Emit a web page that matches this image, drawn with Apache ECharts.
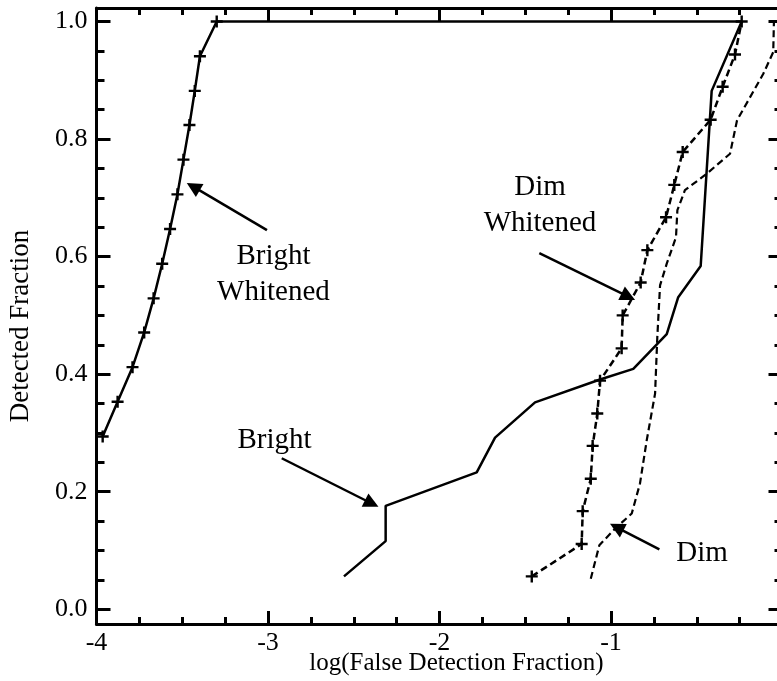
<!DOCTYPE html>
<html>
<head>
<meta charset="utf-8">
<script src="https://cdn.jsdelivr.net/npm/echarts@6/dist/echarts.min.js"></script>
<style>
html,body{margin:0;padding:0;background:#fff;}
#chart{width:777px;height:681px;}
</style>
</head>
<body>
<div id="chart"></div>
<script>
// ---- tick values ----
const xTickValues = [-4, -3, -2, -1, 0];
const yTickValues = [0, 0.2, 0.4, 0.6, 0.8, 1.0];
const yMinorTickValues = [0.05, 0.1, 0.15, 0.25, 0.3, 0.35, 0.45, 0.5, 0.55, 0.65, 0.7, 0.75, 0.85, 0.9, 0.95];

// ---- axis titles ----
const xTitle = 'log(False Detection Fraction)';
const yTitle = 'Detected Fraction';

// ---- series: Bright Whitened (solid, + markers) ----
const brightWhitenedX = [-3.964, -3.877, -3.790, -3.722, -3.667, -3.617, -3.571, -3.528, -3.493, -3.458, -3.427, -3.397, -3.299, -0.238];
const brightWhitenedY = [0.294, 0.353, 0.412, 0.471, 0.529, 0.588, 0.647, 0.706, 0.765, 0.824, 0.882, 0.941, 1.000, 1.000];
const brightWhitenedMarked = [true, true, true, true, true, true, true, true, true, true, true, true, true, false];

// ---- series: Bright (solid) ----
const brightX = [-2.557, -2.314, -2.314, -1.783, -1.676, -1.443, -1.064, -0.870, -0.675, -0.608, -0.477, -0.413, -0.238];
const brightY = [0.056, 0.116, 0.176, 0.233, 0.292, 0.352, 0.391, 0.409, 0.468, 0.531, 0.584, 0.882, 1.000];

// ---- series: Dim Whitened (dashed, + markers) ----
const dimWhitenedX = [-1.462, -1.171, -1.165, -1.118, -1.107, -1.080, -1.064, -0.938, -0.932, -0.827, -0.788, -0.679, -0.631, -0.582, -0.419, -0.349, -0.277, -0.238];
const dimWhitenedY = [0.056, 0.111, 0.167, 0.222, 0.278, 0.333, 0.389, 0.444, 0.500, 0.556, 0.611, 0.667, 0.722, 0.778, 0.833, 0.889, 0.944, 1.000];

// ---- series: Dim (dashed) ----
const dimX = [-1.118, -1.068, -0.977, -0.879, -0.831, -0.792, -0.743, -0.730, -0.714, -0.675, -0.621, -0.613, -0.569, -0.442, -0.306, -0.265, -0.112, -0.054, -0.050];
const dimY = [0.052, 0.109, 0.137, 0.163, 0.214, 0.287, 0.367, 0.463, 0.551, 0.588, 0.633, 0.679, 0.713, 0.741, 0.775, 0.832, 0.911, 0.948, 1.000];

// ---- annotations (data coordinates) ----
const annotationTexts = ['Bright\nWhitened', 'Dim\nWhitened', 'Bright', 'Dim'];
const annotationX = [-2.968, -1.414, -2.962, -0.469];
const annotationY = [0.569, 0.688, 0.288, 0.095];
const arrowFromX = [-3.006, -1.418, -2.920, -0.718];
const arrowFromY = [0.645, 0.606, 0.257, 0.102];
const arrowToX = [-3.436, -0.899, -2.395, -0.967];
const arrowToY = [0.719, 0.532, 0.180, 0.1395];

// ---- styling ----
const FONT = "'Liberation Serif','Times New Roman',serif";
const PLUS = 'path://M4,0H6V4H10V6H6V10H4V6H0V4H4Z';
const BLACK = '#000';

function zip(xs, ys) { return xs.map((x, i) => [x, ys[i]]); }

const X_MIN = -4, X_MAX = 0, Y_MIN = -0.025, Y_MAX = 1.023;

function xAxisCfg(pos, showLabel) {
  return {
    type: 'value', position: pos, min: X_MIN, max: X_MAX, interval: 1,
    axisLine: { show: true, onZero: false, lineStyle: { color: BLACK, width: 3 } },
    axisTick: { show: true, inside: true, length: 13, lineStyle: { color: BLACK, width: 3 } },
    minorTick: { show: true, splitNumber: 4, length: 7, lineStyle: { color: BLACK, width: 3 } },
    axisLabel: { show: showLabel, margin: 6, fontSize: 26, fontFamily: FONT, color: BLACK,
                 hideOverlap: false, showMaxLabel: true, showMinLabel: true,
                 formatter: v => String(v) },
    splitLine: { show: false }, minorSplitLine: { show: false }
  };
}
function yAxisCfg(pos, values, len, showLine, showLabel) {
  return {
    type: 'value', position: pos, min: Y_MIN, max: Y_MAX,
    axisLine: { show: showLine, onZero: false, lineStyle: { color: BLACK, width: 3 } },
    axisTick: { show: true, inside: true, length: len, customValues: values,
                lineStyle: { color: BLACK, width: 3 } },
    axisLabel: { show: showLabel, customValues: values, margin: 9, fontSize: 26, fontFamily: FONT,
                 color: BLACK, formatter: v => v.toFixed(1) },
    splitLine: { show: false }
  };
}

const xBottom = xAxisCfg('bottom', true);
xBottom.name = xTitle;
xBottom.nameLocation = 'middle';
xBottom.nameGap = 27;
xBottom.nameMoveOverlap = false;
xBottom.nameTextStyle = { fontSize: 25, fontFamily: FONT, color: BLACK, padding: [0, 0, 0, 34] };

const yLeft = yAxisCfg('left', yTickValues, 14, true, true);
yLeft.name = yTitle;
yLeft.nameLocation = 'middle';
yLeft.nameGap = 62;
yLeft.nameMoveOverlap = false;
yLeft.nameTextStyle = { fontSize: 27, fontFamily: FONT, color: BLACK, padding: [0, 20, 0, 0] };

const lineBase = { type: 'line', xAxisIndex: 0, yAxisIndex: 0, animation: false, silent: true,
                   emphasis: { disabled: true }, clip: true };

const option = {
  animation: false,
  backgroundColor: '#fff',
  grid: { left: 96.5, top: 8, width: 686, height: 616, containLabel: false, outerBoundsMode: 'none' },
  xAxis: [xBottom, xAxisCfg('top', false)],
  yAxis: [
    yLeft,
    yAxisCfg('left', yMinorTickValues, 8, false, false),
    yAxisCfg('right', yTickValues, 14, true, false),
    yAxisCfg('right', yMinorTickValues, 8, false, false)
  ],
  series: [
    Object.assign({}, lineBase, {
      name: 'Bright Whitened',
      data: brightWhitenedX.map((x, i) => ({ value: [x, brightWhitenedY[i]],
                                              symbol: brightWhitenedMarked[i] ? PLUS : 'none' })),
      symbol: PLUS, symbolSize: 12, showSymbol: true,
      itemStyle: { color: BLACK, opacity: 1 },
      lineStyle: { color: BLACK, width: 2.5, type: 'solid' }
    }),
    Object.assign({}, lineBase, {
      name: 'Bright',
      data: zip(brightX, brightY),
      symbol: 'none',
      lineStyle: { color: BLACK, width: 2.5, type: 'solid' }
    }),
    Object.assign({}, lineBase, {
      name: 'Dim Whitened',
      data: zip(dimWhitenedX, dimWhitenedY),
      symbol: PLUS, symbolSize: 12, showSymbol: true,
      itemStyle: { color: BLACK, opacity: 1 },
      lineStyle: { color: BLACK, width: 2.5, type: [7, 4] }
    }),
    Object.assign({}, lineBase, {
      name: 'Dim',
      data: zip(dimX, dimY),
      symbol: 'none',
      lineStyle: { color: BLACK, width: 2.2, type: [7, 4] }
    }),
    {
      type: 'scatter', name: 'annotations', xAxisIndex: 0, yAxisIndex: 0,
      animation: false, silent: true, emphasis: { disabled: true },
      symbol: 'circle', symbolSize: 0,
      itemStyle: { color: BLACK, opacity: 1 },
      data: annotationTexts.map((t, i) => ({ name: t, value: [annotationX[i], annotationY[i]] })),
      label: { show: true, position: 'inside', formatter: '{b}', fontSize: 29, fontFamily: FONT,
               color: BLACK, opacity: 1, lineHeight: 36, align: 'center', verticalAlign: 'middle' },
      markLine: {
        silent: true, animation: false,
        symbol: ['none', 'triangle'], symbolSize: 15,
        label: { show: false },
        emphasis: { disabled: true },
        lineStyle: { color: BLACK, width: 2.5, type: 'solid', opacity: 1 },
        itemStyle: { color: BLACK, opacity: 1 },
        data: arrowFromX.map((x, i) => [
          { coord: [x, arrowFromY[i]] },
          { coord: [arrowToX[i], arrowToY[i]] }
        ])
      }
    }
  ]
};

const chart = echarts.init(document.getElementById('chart'), null, { renderer: 'canvas' });
chart.setOption(option);
</script>
</body>
</html>
